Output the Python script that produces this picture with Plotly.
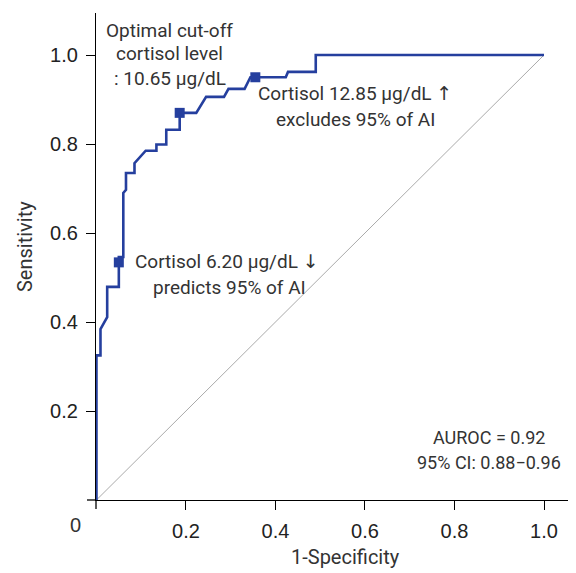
import plotly.graph_objects as go

# ROC curve
fpr = [0, 0, 0.009, 0.009, 0.024, 0.024, 0.050, 0.050, 0.060, 0.060, 0.066, 0.066,
       0.085, 0.085, 0.110, 0.134, 0.134, 0.156, 0.156, 0.186, 0.186, 0.223, 0.245,
       0.285, 0.295, 0.331, 0.344, 0.423, 0.428, 0.490, 0.490, 1.0]
sens = [0, 0.325, 0.325, 0.384, 0.411, 0.479, 0.479, 0.546, 0.546, 0.690, 0.697, 0.735,
        0.735, 0.757, 0.785, 0.785, 0.799, 0.799, 0.832, 0.832, 0.870, 0.870, 0.906,
        0.906, 0.924, 0.924, 0.950, 0.950, 0.962, 0.962, 1.0, 1.0]

# highlighted cut-off points
cut_fpr = [0.050, 0.186, 0.355]
cut_sens = [0.534, 0.870, 0.950]

ref_line = [0, 1]
tick_vals = [0.2, 0.4, 0.6, 0.8, 1.0]
tick_text = ["0.2", "0.4", "0.6", "0.8", "1.0"]

OFF = 8  # page body margin
W, H = 576 - OFF, 573 - OFF
L, TOP, BOT = 96 - OFF, 13 - OFF, 500 - OFF
PW, PH = W - L, BOT - TOP


def px(x):  # screen pixel -> paper
    return (x - OFF - L) / PW


def py(y):
    return (BOT - (y - OFF)) / PH


BLUE = "#253F9E"
TXT = "#333333"
TFONT = "Roboto, 'Noto Sans', sans-serif"
ARROW = "<span style=\"font-family:'DejaVu Sans'\">%s</span>"

fig = go.Figure()
fig.add_trace(go.Scatter(x=ref_line, y=ref_line, mode="lines",
                         line=dict(color="#AAAAAA", width=1), hoverinfo="skip"))
fig.add_trace(go.Scatter(x=fpr, y=sens, mode="lines",
                         line=dict(color=BLUE, width=2.6)))
fig.add_trace(go.Scatter(x=cut_fpr, y=cut_sens, mode="markers", cliponaxis=False,
                         marker=dict(symbol="square", size=10, color=BLUE)))

axis_common = dict(showgrid=False, zeroline=False, showline=True, linecolor="black",
                   linewidth=1.3, ticks="outside", ticklen=9, tickwidth=1.2,
                   tickcolor="black", tickvals=tick_vals, ticktext=tick_text,
                   tickfont=dict(family="'Liberation Sans', Arial, sans-serif",
                                 size=20, color="#222222"),
                   ticklabelstandoff=4, fixedrange=True)

fig.update_layout(
    width=W, height=H,
    margin=dict(l=L, r=0, t=TOP, b=H - BOT, pad=0),
    paper_bgcolor="white", plot_bgcolor="white",
    showlegend=False,
    xaxis=dict(range=[-0.001, 1.0715], **axis_common),
    yaxis=dict(range=[0, 1.0944], **axis_common),
)

# axis line extensions past the origin
fig.add_shape(type="line", xref="paper", yref="paper", x0=px(87), x1=0, y0=0, y1=0,
              line=dict(color="black", width=1.3))
fig.add_shape(type="line", xref="paper", yref="paper", x0=0, x1=0, y0=0, y1=py(509),
              line=dict(color="black", width=1.3))


def note(text, x, y, size=19, angle=0, family=TFONT):
    fig.add_annotation(text=text, xref="paper", yref="paper", x=px(x), y=py(y),
                       xanchor="center", yanchor="middle", showarrow=False,
                       textangle=angle,
                       font=dict(family=family, size=size, color=TXT))


note("0", 75, 525, size=20, family="'Liberation Sans', Arial, sans-serif")
note("1-Specificity", 345, 557, size=20)
note("Sensitivity", 25, 247, size=20, angle=-90)

note("Optimal cut-off", 169, 30)
note("cortisol level", 169, 54)
note(": 10.65 μg/dL", 170, 78)

note("Cortisol 12.85 μg/dL " + ARROW % "↑", 355, 94)
note("excludes 95% of AI", 355, 120)

note("Cortisol 6.20 μg/dL " + ARROW % "↓", 227, 261)
note("predicts 95% of AI", 229, 287)

note("AUROC = 0.92", 489, 437, size=18)
note("95% CI: 0.88−0.96", 489, 462, size=18)

fig.write_html("out.html")
